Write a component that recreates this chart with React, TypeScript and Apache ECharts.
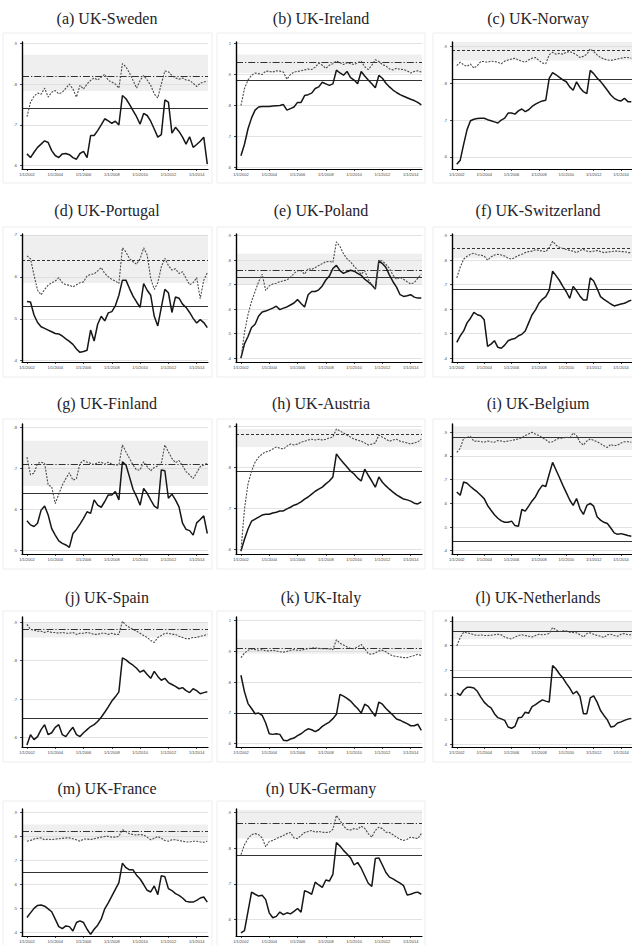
import React, { useEffect, useRef } from "react";
import * as echarts from "echarts";

// Panel titles, in reading order (three panels per row)
const pairNames = [
  "(a) UK-Sweden", "(b) UK-Ireland", "(c) UK-Norway",
  "(d) UK-Portugal", "(e) UK-Poland", "(f) UK-Switzerland",
  "(g) UK-Finland", "(h) UK-Austria", "(i) UK-Belgium",
  "(j) UK-Spain", "(k) UK-Italy", "(l) UK-Netherlands",
  "(m) UK-France", "(n) UK-Germany",
];

// Quarterly observation dates, 2002Q1 .. 2014Q4
const quarterStarts = Array.from({ length: 52 }, (_, k) => 2002 + k / 4);
const yearTicks = [2002, 2004, 2006, 2008, 2010, 2012, 2014];

const swedenSolid = [0.629, 0.62, 0.633, 0.645, 0.653, 0.661, 0.657, 0.637, 0.625, 0.62, 0.629, 0.63, 0.627, 0.62, 0.616, 0.63, 0.635, 0.62, 0.674, 0.674, 0.686, 0.7, 0.715, 0.71, 0.704, 0.709, 0.7, 0.772, 0.764, 0.75, 0.735, 0.72, 0.702, 0.728, 0.723, 0.709, 0.69, 0.67, 0.676, 0.761, 0.756, 0.68, 0.694, 0.684, 0.67, 0.653, 0.671, 0.645, 0.652, 0.66, 0.67, 0.604];
const swedenDashed = [0.72, 0.755, 0.77, 0.778, 0.775, 0.79, 0.768, 0.78, 0.784, 0.776, 0.78, 0.79, 0.8, 0.788, 0.768, 0.797, 0.788, 0.8, 0.809, 0.815, 0.81, 0.817, 0.824, 0.809, 0.805, 0.8, 0.79, 0.85, 0.842, 0.827, 0.809, 0.79, 0.809, 0.821, 0.81, 0.797, 0.776, 0.766, 0.8, 0.832, 0.83, 0.821, 0.815, 0.812, 0.815, 0.81, 0.809, 0.802, 0.794, 0.802, 0.805, 0.807];

const irelandSolid = [0.638, 0.675, 0.725, 0.76, 0.785, 0.795, 0.797, 0.797, 0.797, 0.798, 0.799, 0.8, 0.803, 0.785, 0.79, 0.795, 0.81, 0.81, 0.832, 0.835, 0.84, 0.855, 0.86, 0.875, 0.87, 0.865, 0.87, 0.914, 0.905, 0.898, 0.91, 0.89, 0.882, 0.87, 0.91, 0.895, 0.882, 0.87, 0.857, 0.897, 0.888, 0.872, 0.86, 0.85, 0.842, 0.835, 0.83, 0.825, 0.82, 0.816, 0.81, 0.802];
const irelandDashed = [0.8, 0.855, 0.882, 0.898, 0.905, 0.903, 0.9, 0.911, 0.91, 0.908, 0.912, 0.911, 0.908, 0.885, 0.9, 0.908, 0.91, 0.912, 0.915, 0.918, 0.916, 0.924, 0.937, 0.93, 0.92, 0.93, 0.935, 0.944, 0.938, 0.932, 0.938, 0.935, 0.932, 0.938, 0.943, 0.925, 0.916, 0.93, 0.948, 0.942, 0.932, 0.928, 0.918, 0.915, 0.92, 0.917, 0.916, 0.912, 0.905, 0.91, 0.912, 0.908];

const norwaySolid = [0.58, 0.591, 0.634, 0.674, 0.698, 0.702, 0.704, 0.705, 0.705, 0.701, 0.698, 0.695, 0.692, 0.7, 0.705, 0.719, 0.719, 0.716, 0.725, 0.73, 0.723, 0.728, 0.737, 0.743, 0.748, 0.752, 0.754, 0.813, 0.829, 0.823, 0.816, 0.809, 0.804, 0.79, 0.781, 0.804, 0.788, 0.777, 0.772, 0.835, 0.826, 0.814, 0.805, 0.793, 0.781, 0.768, 0.759, 0.754, 0.752, 0.759, 0.75, 0.75];
const norwayDashed = [0.848, 0.857, 0.85, 0.846, 0.852, 0.841, 0.848, 0.859, 0.859, 0.857, 0.86, 0.859, 0.857, 0.853, 0.86, 0.863, 0.866, 0.868, 0.863, 0.86, 0.857, 0.863, 0.868, 0.87, 0.862, 0.855, 0.853, 0.877, 0.884, 0.879, 0.881, 0.879, 0.884, 0.886, 0.882, 0.877, 0.87, 0.873, 0.879, 0.893, 0.886, 0.877, 0.87, 0.866, 0.863, 0.862, 0.864, 0.866, 0.868, 0.87, 0.87, 0.868];

const portugalSolid = [0.541, 0.54, 0.509, 0.491, 0.481, 0.477, 0.473, 0.469, 0.465, 0.464, 0.459, 0.452, 0.446, 0.439, 0.428, 0.42, 0.422, 0.425, 0.473, 0.447, 0.487, 0.506, 0.495, 0.514, 0.517, 0.531, 0.556, 0.592, 0.592, 0.572, 0.554, 0.54, 0.527, 0.584, 0.568, 0.556, 0.506, 0.483, 0.527, 0.57, 0.562, 0.515, 0.552, 0.549, 0.535, 0.527, 0.515, 0.501, 0.49, 0.498, 0.491, 0.479];
const portugalDashed = [0.65, 0.643, 0.604, 0.568, 0.557, 0.57, 0.58, 0.586, 0.59, 0.598, 0.586, 0.581, 0.58, 0.576, 0.581, 0.586, 0.588, 0.602, 0.606, 0.607, 0.614, 0.622, 0.608, 0.6, 0.594, 0.59, 0.584, 0.669, 0.659, 0.643, 0.636, 0.63, 0.643, 0.669, 0.652, 0.596, 0.57, 0.586, 0.624, 0.644, 0.627, 0.616, 0.619, 0.608, 0.612, 0.596, 0.581, 0.586, 0.598, 0.548, 0.592, 0.61];

const polandSolid = [0.4, 0.458, 0.488, 0.525, 0.538, 0.572, 0.588, 0.592, 0.598, 0.604, 0.612, 0.598, 0.604, 0.609, 0.617, 0.625, 0.639, 0.623, 0.609, 0.659, 0.672, 0.672, 0.679, 0.695, 0.719, 0.735, 0.766, 0.779, 0.757, 0.746, 0.753, 0.759, 0.755, 0.746, 0.738, 0.722, 0.711, 0.699, 0.682, 0.797, 0.786, 0.77, 0.739, 0.712, 0.69, 0.659, 0.652, 0.655, 0.659, 0.649, 0.645, 0.645];
const polandDashed = [0.4, 0.505, 0.578, 0.632, 0.672, 0.712, 0.743, 0.676, 0.695, 0.703, 0.706, 0.712, 0.716, 0.719, 0.73, 0.746, 0.757, 0.757, 0.743, 0.766, 0.762, 0.77, 0.778, 0.786, 0.794, 0.795, 0.791, 0.875, 0.856, 0.826, 0.806, 0.793, 0.775, 0.759, 0.743, 0.757, 0.722, 0.699, 0.682, 0.8, 0.797, 0.783, 0.766, 0.739, 0.722, 0.73, 0.722, 0.712, 0.703, 0.708, 0.726, 0.743];

const switzerlandSolid = [0.464, 0.491, 0.511, 0.544, 0.563, 0.587, 0.577, 0.573, 0.557, 0.448, 0.457, 0.471, 0.444, 0.44, 0.453, 0.471, 0.477, 0.48, 0.491, 0.497, 0.511, 0.544, 0.577, 0.597, 0.624, 0.64, 0.651, 0.677, 0.755, 0.737, 0.717, 0.693, 0.671, 0.644, 0.693, 0.675, 0.653, 0.637, 0.637, 0.728, 0.715, 0.684, 0.651, 0.64, 0.631, 0.621, 0.613, 0.617, 0.621, 0.624, 0.631, 0.637];
const switzerlandDashed = [0.728, 0.771, 0.804, 0.816, 0.824, 0.829, 0.821, 0.821, 0.817, 0.8, 0.813, 0.821, 0.824, 0.821, 0.817, 0.808, 0.804, 0.811, 0.819, 0.824, 0.831, 0.835, 0.837, 0.843, 0.84, 0.837, 0.835, 0.851, 0.877, 0.861, 0.853, 0.848, 0.844, 0.84, 0.837, 0.831, 0.84, 0.844, 0.837, 0.835, 0.837, 0.84, 0.835, 0.831, 0.833, 0.835, 0.837, 0.837, 0.835, 0.835, 0.831, 0.831];

const finlandSolid = [0.573, 0.563, 0.559, 0.567, 0.599, 0.609, 0.587, 0.554, 0.538, 0.524, 0.518, 0.514, 0.508, 0.542, 0.552, 0.565, 0.579, 0.595, 0.591, 0.624, 0.611, 0.606, 0.62, 0.636, 0.636, 0.644, 0.624, 0.717, 0.709, 0.68, 0.65, 0.632, 0.611, 0.652, 0.64, 0.624, 0.609, 0.603, 0.697, 0.695, 0.628, 0.638, 0.624, 0.607, 0.567, 0.552, 0.549, 0.538, 0.568, 0.576, 0.585, 0.542];
const finlandDashed = [0.728, 0.685, 0.689, 0.713, 0.716, 0.713, 0.66, 0.656, 0.615, 0.638, 0.66, 0.676, 0.69, 0.672, 0.676, 0.713, 0.72, 0.716, 0.713, 0.71, 0.715, 0.716, 0.711, 0.716, 0.711, 0.709, 0.709, 0.758, 0.741, 0.725, 0.709, 0.697, 0.697, 0.717, 0.705, 0.695, 0.703, 0.707, 0.713, 0.758, 0.741, 0.725, 0.715, 0.72, 0.707, 0.693, 0.685, 0.676, 0.69, 0.705, 0.709, 0.713];

const austriaSolid = [0.595, 0.624, 0.649, 0.668, 0.673, 0.678, 0.683, 0.685, 0.685, 0.688, 0.69, 0.693, 0.693, 0.698, 0.702, 0.707, 0.71, 0.715, 0.722, 0.727, 0.734, 0.741, 0.746, 0.751, 0.759, 0.766, 0.776, 0.832, 0.82, 0.81, 0.8, 0.79, 0.783, 0.773, 0.766, 0.795, 0.78, 0.766, 0.751, 0.776, 0.763, 0.754, 0.746, 0.739, 0.732, 0.727, 0.722, 0.72, 0.717, 0.712, 0.71, 0.715];
const austriaDashed = [0.595, 0.698, 0.759, 0.79, 0.812, 0.824, 0.832, 0.837, 0.839, 0.844, 0.849, 0.846, 0.844, 0.851, 0.856, 0.854, 0.856, 0.861, 0.863, 0.866, 0.868, 0.866, 0.868, 0.866, 0.868, 0.871, 0.873, 0.893, 0.888, 0.883, 0.878, 0.873, 0.868, 0.866, 0.863, 0.859, 0.854, 0.856, 0.859, 0.878, 0.873, 0.868, 0.863, 0.866, 0.868, 0.863, 0.861, 0.859, 0.856, 0.859, 0.861, 0.868];

const belgiumSolid = [0.648, 0.634, 0.69, 0.685, 0.671, 0.659, 0.648, 0.634, 0.62, 0.591, 0.571, 0.552, 0.537, 0.526, 0.52, 0.52, 0.525, 0.506, 0.503, 0.574, 0.567, 0.588, 0.61, 0.628, 0.656, 0.676, 0.671, 0.723, 0.773, 0.741, 0.709, 0.676, 0.645, 0.614, 0.591, 0.62, 0.577, 0.553, 0.591, 0.6, 0.588, 0.543, 0.529, 0.52, 0.515, 0.496, 0.475, 0.469, 0.472, 0.468, 0.464, 0.461];
const belgiumDashed = [0.815, 0.832, 0.875, 0.879, 0.883, 0.862, 0.863, 0.86, 0.858, 0.863, 0.86, 0.858, 0.865, 0.863, 0.86, 0.863, 0.865, 0.869, 0.872, 0.877, 0.886, 0.893, 0.9, 0.892, 0.886, 0.877, 0.869, 0.858, 0.86, 0.869, 0.875, 0.875, 0.88, 0.875, 0.897, 0.886, 0.858, 0.846, 0.863, 0.872, 0.866, 0.86, 0.852, 0.843, 0.836, 0.849, 0.843, 0.846, 0.855, 0.86, 0.86, 0.858];

const spainSolid = [0.581, 0.608, 0.595, 0.603, 0.621, 0.634, 0.608, 0.613, 0.627, 0.634, 0.608, 0.603, 0.616, 0.627, 0.608, 0.603, 0.613, 0.621, 0.629, 0.634, 0.642, 0.653, 0.666, 0.68, 0.695, 0.706, 0.719, 0.807, 0.802, 0.794, 0.788, 0.78, 0.77, 0.775, 0.764, 0.754, 0.772, 0.759, 0.749, 0.754, 0.743, 0.738, 0.733, 0.727, 0.73, 0.722, 0.717, 0.727, 0.722, 0.714, 0.717, 0.719];
const spainDashed = [0.894, 0.881, 0.879, 0.876, 0.876, 0.873, 0.876, 0.873, 0.873, 0.871, 0.873, 0.871, 0.871, 0.873, 0.868, 0.871, 0.871, 0.873, 0.871, 0.868, 0.868, 0.871, 0.871, 0.868, 0.871, 0.868, 0.868, 0.902, 0.892, 0.886, 0.881, 0.876, 0.871, 0.865, 0.86, 0.852, 0.847, 0.86, 0.865, 0.871, 0.871, 0.868, 0.868, 0.863, 0.86, 0.857, 0.857, 0.86, 0.86, 0.863, 0.865, 0.868];

const italySolid = [0.822, 0.768, 0.73, 0.714, 0.697, 0.699, 0.692, 0.667, 0.632, 0.63, 0.632, 0.63, 0.611, 0.609, 0.615, 0.618, 0.626, 0.632, 0.641, 0.648, 0.645, 0.639, 0.645, 0.656, 0.663, 0.67, 0.681, 0.695, 0.76, 0.754, 0.747, 0.738, 0.725, 0.714, 0.699, 0.728, 0.721, 0.704, 0.689, 0.735, 0.728, 0.714, 0.703, 0.692, 0.68, 0.676, 0.67, 0.665, 0.658, 0.658, 0.663, 0.643];
const italyDashed = [0.879, 0.894, 0.903, 0.907, 0.905, 0.903, 0.905, 0.901, 0.901, 0.903, 0.901, 0.898, 0.897, 0.899, 0.903, 0.905, 0.903, 0.903, 0.906, 0.908, 0.91, 0.911, 0.909, 0.908, 0.908, 0.907, 0.905, 0.937, 0.926, 0.92, 0.914, 0.909, 0.908, 0.914, 0.922, 0.908, 0.892, 0.89, 0.894, 0.901, 0.903, 0.898, 0.89, 0.885, 0.883, 0.881, 0.879, 0.879, 0.883, 0.886, 0.89, 0.886];

const netherlandsSolid = [0.607, 0.598, 0.62, 0.631, 0.631, 0.628, 0.615, 0.591, 0.571, 0.557, 0.548, 0.524, 0.508, 0.503, 0.497, 0.47, 0.465, 0.473, 0.508, 0.51, 0.53, 0.526, 0.553, 0.561, 0.571, 0.58, 0.575, 0.571, 0.719, 0.705, 0.685, 0.669, 0.647, 0.628, 0.604, 0.615, 0.594, 0.524, 0.524, 0.588, 0.596, 0.571, 0.537, 0.517, 0.499, 0.47, 0.473, 0.486, 0.491, 0.497, 0.502, 0.505];
const netherlandsDashed = [0.799, 0.833, 0.854, 0.852, 0.849, 0.844, 0.841, 0.844, 0.841, 0.841, 0.842, 0.844, 0.846, 0.844, 0.835, 0.83, 0.827, 0.835, 0.841, 0.844, 0.841, 0.838, 0.835, 0.841, 0.846, 0.844, 0.846, 0.849, 0.873, 0.864, 0.857, 0.86, 0.86, 0.854, 0.853, 0.852, 0.844, 0.835, 0.849, 0.852, 0.846, 0.841, 0.838, 0.833, 0.844, 0.846, 0.841, 0.838, 0.846, 0.849, 0.844, 0.844];

const franceSolid = [0.463, 0.482, 0.501, 0.513, 0.515, 0.51, 0.499, 0.487, 0.456, 0.425, 0.417, 0.428, 0.425, 0.407, 0.442, 0.449, 0.442, 0.414, 0.393, 0.414, 0.431, 0.456, 0.499, 0.524, 0.552, 0.58, 0.608, 0.689, 0.67, 0.661, 0.661, 0.639, 0.623, 0.6, 0.576, 0.569, 0.594, 0.558, 0.637, 0.632, 0.583, 0.575, 0.562, 0.555, 0.544, 0.53, 0.527, 0.527, 0.534, 0.544, 0.548, 0.527];
const franceDashed = [0.78, 0.783, 0.789, 0.792, 0.794, 0.786, 0.789, 0.787, 0.789, 0.79, 0.792, 0.794, 0.794, 0.79, 0.786, 0.78, 0.789, 0.789, 0.787, 0.79, 0.794, 0.797, 0.8, 0.8, 0.797, 0.797, 0.8, 0.828, 0.82, 0.811, 0.808, 0.806, 0.808, 0.806, 0.797, 0.786, 0.792, 0.8, 0.792, 0.783, 0.78, 0.786, 0.786, 0.783, 0.78, 0.777, 0.777, 0.78, 0.78, 0.777, 0.776, 0.78];

const germanySolid = [0.563, 0.569, 0.623, 0.677, 0.671, 0.666, 0.668, 0.656, 0.619, 0.605, 0.609, 0.621, 0.614, 0.619, 0.616, 0.623, 0.631, 0.621, 0.681, 0.677, 0.671, 0.705, 0.697, 0.69, 0.711, 0.708, 0.727, 0.816, 0.806, 0.794, 0.784, 0.773, 0.753, 0.76, 0.744, 0.723, 0.702, 0.693, 0.771, 0.773, 0.753, 0.732, 0.719, 0.714, 0.708, 0.702, 0.695, 0.669, 0.671, 0.675, 0.677, 0.671];
const germanyDashed = [0.782, 0.81, 0.827, 0.838, 0.841, 0.838, 0.829, 0.804, 0.819, 0.822, 0.827, 0.831, 0.836, 0.841, 0.844, 0.829, 0.827, 0.836, 0.844, 0.847, 0.85, 0.845, 0.847, 0.845, 0.844, 0.845, 0.853, 0.892, 0.878, 0.862, 0.853, 0.851, 0.855, 0.853, 0.862, 0.856, 0.841, 0.831, 0.85, 0.859, 0.855, 0.845, 0.844, 0.838, 0.831, 0.825, 0.822, 0.825, 0.831, 0.829, 0.827, 0.841];

const solidSeries = [swedenSolid, irelandSolid, norwaySolid, portugalSolid, polandSolid, switzerlandSolid, finlandSolid, austriaSolid, belgiumSolid, spainSolid, italySolid, netherlandsSolid, franceSolid, germanySolid];
const dashedSeries = [swedenDashed, irelandDashed, norwayDashed, portugalDashed, polandDashed, switzerlandDashed, finlandDashed, austriaDashed, belgiumDashed, spainDashed, italyDashed, netherlandsDashed, franceDashed, germanyDashed];

// Horizontal reference levels and the shaded band around the upper one
const upperMean = [0.825, 0.935, 0.887, 0.643, 0.759, 0.855, 0.714, 0.876, 0.876, 0.879, 0.914, 0.862, 0.818, 0.868];
const lowerMean = [0.737, 0.881, 0.806, 0.525, 0.735, 0.677, 0.636, 0.785, 0.444, 0.648, 0.7, 0.665, 0.654, 0.782];
const bandLow = [0.783, 0.905, 0.862, 0.585, 0.7, 0.808, 0.658, 0.849, 0.825, 0.86, 0.892, 0.826, 0.783, 0.827];
const bandHigh = [0.872, 0.965, 0.912, 0.7, 0.826, 0.9, 0.768, 0.893, 0.925, 0.9, 0.938, 0.9, 0.85, 0.908];

// Vertical axis ranges and tick values per panel
const yMin = [0.592, 0.595, 0.567, 0.397, 0.384, 0.384, 0.492, 0.588, 0.386, 0.576, 0.589, 0.389, 0.386, 0.554];
const yMax = [0.903, 1.005, 0.912, 0.702, 0.907, 0.907, 0.809, 0.905, 0.935, 0.913, 1.011, 0.916, 0.914, 0.91];
const yTicks = [
  [0.6, 0.7, 0.8, 0.9],
  [0.6, 0.7, 0.8, 0.9, 1.0],
  [0.6, 0.7, 0.8, 0.9],
  [0.4, 0.5, 0.6, 0.7],
  [0.4, 0.5, 0.6, 0.7, 0.8, 0.9],
  [0.4, 0.5, 0.6, 0.7, 0.8, 0.9],
  [0.5, 0.6, 0.7, 0.8],
  [0.6, 0.7, 0.8, 0.9],
  [0.4, 0.5, 0.6, 0.7, 0.8, 0.9],
  [0.6, 0.7, 0.8, 0.9],
  [0.6, 0.7, 0.8, 0.9, 1.0],
  [0.4, 0.5, 0.6, 0.7, 0.8, 0.9],
  [0.4, 0.5, 0.6, 0.7, 0.8, 0.9],
  [0.6, 0.7, 0.8, 0.9],
];

// Line pattern of the upper reference level in each panel
const upperStyle = ["dashdot", "dashdot", "dashed", "dashed", "dashdot", "dashed", "dashdot", "dashed", "solid", "dashdot", "dashdot", "solid", "dashdot", "dashdot"];

// Layout (pixels)
const colLeft = [22, 236, 452];
const rowTop = [42, 234, 424, 617, 809];
const rowHeight = [127, 128, 130, 130, 127];
const plotWidth = 186;
const titleCenterX = [107, 321, 538];
const titleCenterY = [18, 210, 403, 597, 788];
const boxLeft = [3, 217, 433];
const boxWidth = [209, 208, 212];
const boxTop = [33, 227, 419, 611, 801];
const boxHeight = [150, 150, 150, 151, 150];

const patternOf = (s: string): any => {
  if (s === "dashdot") return [7, 2, 1.2, 2];
  if (s === "dashed") return [3, 2];
  return "solid";
};

const tickText = (v: number) => {
  if (v >= 1) return String(Math.round(v));
  return v.toFixed(1).replace(/^0\./, ".");
};

export default function App() {
  const ref = useRef<HTMLDivElement>(null);

  useEffect(() => {
    if (!ref.current) return;
    const chart = echarts.init(ref.current, null, { renderer: "svg" });

    const grid: any[] = [];
    const xAxis: any[] = [];
    const yAxis: any[] = [];
    const series: any[] = [];
    const graphic: any[] = [];

    pairNames.forEach((name, p) => {
      const col = p % 3;
      const row = Math.floor(p / 3);

      graphic.push({
        type: "rect",
        silent: true,
        z: -10,
        shape: { x: boxLeft[col], y: boxTop[row], width: boxWidth[col], height: boxHeight[row] },
        style: { fill: "none", stroke: "#ededed", lineWidth: 1 },
      });
      graphic.push({
        type: "text",
        silent: true,
        x: titleCenterX[col],
        y: titleCenterY[row],
        style: {
          text: name,
          fill: "#23232b",
          font: '16px "Liberation Serif"',
          textAlign: "center",
          textVerticalAlign: "middle",
          align: "center",
          verticalAlign: "middle",
        },
      });

      grid.push({ left: colLeft[col], top: rowTop[row], width: plotWidth, height: rowHeight[row] });

      xAxis.push({
        type: "value",
        gridIndex: p,
        min: 2001.65,
        max: 2014.8,
        z: 10,
        axisLine: { show: true, onZero: false, lineStyle: { color: "#000", width: 1.2 } },
        splitLine: { show: false },
        axisTick: { show: true, length: 2, customValues: yearTicks, lineStyle: { color: "#000", width: 0.7 } },
        axisLabel: {
          customValues: yearTicks,
          formatter: (v: number) => `1/1/${v}`,
          fontSize: 4,
          color: "#444",
          margin: 3,
          fontFamily: "Liberation Sans",
        },
      });

      yAxis.push({
        type: "value",
        gridIndex: p,
        min: yMin[p],
        max: yMax[p],
        z: 10,
        axisLine: { show: true, onZero: false, lineStyle: { color: "#000", width: 1.4 } },
        splitLine: { show: false },
        axisTick: { show: true, length: 2, customValues: yTicks[p], lineStyle: { color: "#000", width: 0.7 } },
        axisLabel: {
          customValues: yTicks[p],
          formatter: tickText,
          fontSize: 4,
          color: "#444",
          margin: 5,
          fontFamily: "Liberation Sans",
        },
      });

      series.push({
        type: "line",
        xAxisIndex: p,
        yAxisIndex: p,
        data: quarterStarts.map((t, k) => [t, solidSeries[p][k]]),
        showSymbol: false,
        symbol: "none",
        z: 3,
        lineStyle: { color: "#161616", width: 1.5 },
        markArea: {
          silent: true,
          z: 0,
          itemStyle: { color: "#efefef" },
          data: [[{ yAxis: bandLow[p] }, { yAxis: bandHigh[p] }]],
        },
        markLine: {
          silent: true,
          z: 1,
          symbol: ["none", "none"],
          label: { show: false },
          data: [
            ...yTicks[p].map((t) => ({ yAxis: t, lineStyle: { color: "#dadada", width: 0.8, type: "solid" } })),
            { yAxis: upperMean[p], lineStyle: { color: "#333", width: 1.1, type: patternOf(upperStyle[p]) } },
            { yAxis: lowerMean[p], lineStyle: { color: "#333", width: 1.2, type: "solid" } },
          ],
        },
      });

      series.push({
        type: "line",
        xAxisIndex: p,
        yAxisIndex: p,
        data: quarterStarts.map((t, k) => [t, dashedSeries[p][k]]),
        showSymbol: false,
        symbol: "none",
        z: 4,
        lineStyle: { color: "#4a4a4a", width: 1.1, type: [2, 1.3] },
      });
    });

    chart.setOption({
      animation: false,
      backgroundColor: "#fff",
      grid,
      xAxis,
      yAxis,
      series,
      graphic,
    });

    return () => chart.dispose();
  }, []);

  return (
    <div style={{ position: "absolute", left: 0, top: 0, width: 632, height: 945, overflow: "hidden", background: "#fff" }}>
      <div ref={ref} style={{ width: 632, height: 945 }} />
    </div>
  );
}
